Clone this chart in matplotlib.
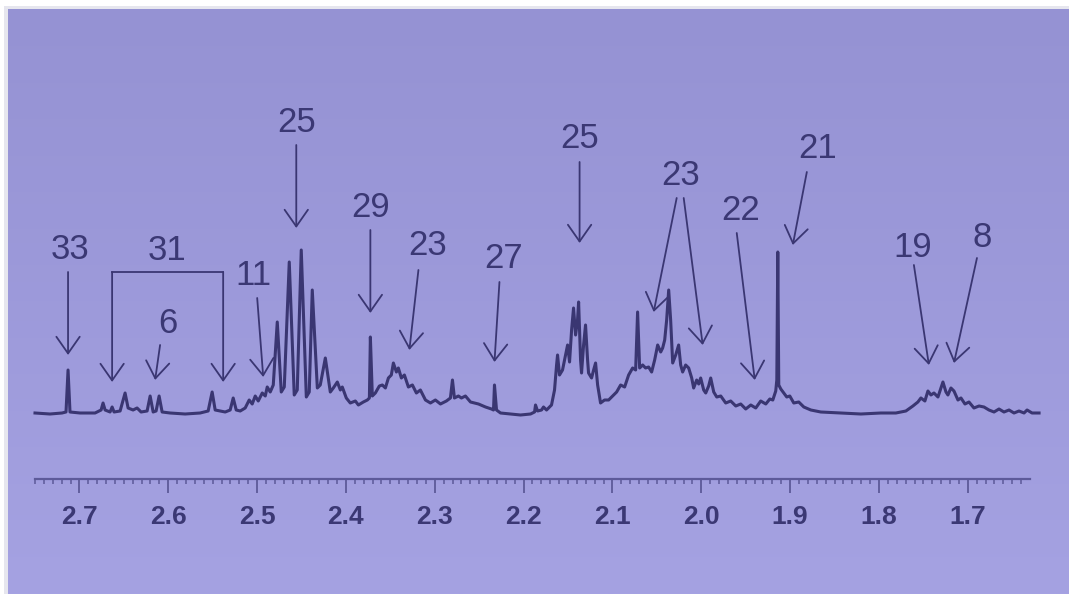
import numpy as np
import matplotlib
matplotlib.use("Agg")
import matplotlib.pyplot as plt
from matplotlib.patches import Rectangle
from matplotlib.colors import LinearSegmentedColormap

# ---------------- data (chemical shift in ppm, intensity in a.u.) ----------------
ppm = [2.7500, 2.7331, 2.7196, 2.7151, 2.7128, 2.7106, 2.6993, 2.6824, 2.6756, 2.6734,
       2.6711, 2.6655, 2.6632, 2.6610, 2.6542, 2.6486, 2.6452, 2.6396, 2.6351, 2.6306,
       2.6238, 2.6204, 2.6170, 2.6137, 2.6103, 2.6069, 2.5979, 2.5810, 2.5641, 2.5551,
       2.5506, 2.5472, 2.5359, 2.5303, 2.5269, 2.5235, 2.5190, 2.5134, 2.5089, 2.5055,
       2.5021, 2.4987, 2.4942, 2.4908, 2.4886, 2.4852, 2.4818, 2.4773, 2.4728, 2.4694,
       2.4638, 2.4582, 2.4548, 2.4503, 2.4446, 2.4413, 2.4379, 2.4322, 2.4289, 2.4232,
       2.4176, 2.4142, 2.4097, 2.4063, 2.4041, 2.3996, 2.3951, 2.3894, 2.3860, 2.3804,
       2.3759, 2.3736, 2.3725, 2.3703, 2.3669, 2.3624, 2.3590, 2.3556, 2.3522, 2.3489,
       2.3466, 2.3432, 2.3410, 2.3376, 2.3342, 2.3297, 2.3252, 2.3207, 2.3162, 2.3105,
       2.3049, 2.2993, 2.2936, 2.2869, 2.2824, 2.2801, 2.2779, 2.2734, 2.2700, 2.2655,
       2.2598, 2.2508, 2.2429, 2.2362, 2.2339, 2.2328, 2.2305, 2.2260, 2.2148, 2.2035,
       2.1922, 2.1877, 2.1866, 2.1843, 2.1798, 2.1776, 2.1742, 2.1686, 2.1652, 2.1629,
       2.1618, 2.1596, 2.1562, 2.1539, 2.1505, 2.1483, 2.1460, 2.1438, 2.1415, 2.1393,
       2.1381, 2.1359, 2.1348, 2.1325, 2.1303, 2.1280, 2.1269, 2.1235, 2.1212, 2.1190,
       2.1167, 2.1134, 2.1089, 2.1043, 2.0998, 2.0953, 2.0908, 2.0863, 2.0818, 2.0773,
       2.0739, 2.0717, 2.0694, 2.0660, 2.0627, 2.0593, 2.0559, 2.0525, 2.0491, 2.0457,
       2.0435, 2.0412, 2.0390, 2.0367, 2.0345, 2.0322, 2.0288, 2.0255, 2.0232, 2.0210,
       2.0176, 2.0142, 2.0108, 2.0086, 2.0052, 2.0029, 2.0007, 1.9973, 1.9950, 1.9917,
       1.9894, 1.9860, 1.9826, 1.9781, 1.9725, 1.9669, 1.9612, 1.9556, 1.9500, 1.9443,
       1.9387, 1.9331, 1.9274, 1.9229, 1.9195, 1.9162, 1.9150, 1.9139, 1.9128, 1.9105,
       1.9072, 1.9038, 1.9004, 1.8959, 1.8903, 1.8846, 1.8767, 1.8655, 1.8429, 1.8204,
       1.7979, 1.7810, 1.7697, 1.7618, 1.7562, 1.7528, 1.7483, 1.7449, 1.7415, 1.7381,
       1.7336, 1.7280, 1.7246, 1.7224, 1.7190, 1.7156, 1.7111, 1.7077, 1.7032, 1.6987,
       1.6931, 1.6874, 1.6818, 1.6762, 1.6705, 1.6649, 1.6593, 1.6536, 1.6480, 1.6424,
       1.6367, 1.6333, 1.6277, 1.6198]

intensity = [2, 1, 2, 3, 45, 3, 2, 2, 5, 12,
             5, 3, 8, 3, 4, 22, 7, 5, 7, 3,
             4, 19, 3, 4, 19, 3, 2, 1, 2, 4,
             23, 5, 3, 5, 17, 5, 4, 7, 15, 11,
             19, 14, 22, 19, 28, 23, 30, 93, 23, 28,
             153, 20, 25, 165, 18, 23, 125, 27, 30, 57,
             23, 27, 33, 25, 28, 17, 12, 14, 10, 13,
             15, 17, 78, 19, 22, 29, 30, 27, 37, 40,
             52, 43, 47, 37, 40, 28, 30, 22, 25, 15,
             12, 15, 11, 14, 17, 35, 17, 19, 17, 19,
             13, 11, 8, 6, 5, 30, 5, 2, 1, 0,
             1, 3, 10, 4, 5, 8, 5, 10, 25, 50,
             60, 40, 45, 55, 70, 53, 85, 107, 80, 95,
             113, 55, 42, 70, 90, 55, 42, 37, 45, 52,
             30, 12, 15, 15, 19, 23, 30, 28, 40, 47,
             45, 103, 47, 50, 47, 48, 43, 55, 70, 63,
             67, 75, 95, 125, 95, 52, 60, 70, 50, 43,
             50, 47, 37, 27, 35, 31, 37, 25, 22, 29,
             37, 23, 18, 19, 12, 14, 9, 11, 6, 10,
             7, 14, 11, 16, 15, 24, 35, 163, 30, 26,
             22, 18, 19, 12, 13, 8, 5, 3, 2, 1,
             2, 2, 4, 9, 13, 17, 14, 24, 20, 22,
             18, 33, 23, 20, 27, 24, 15, 17, 11, 13,
             7, 9, 8, 5, 3, 6, 3, 5, 2, 4,
             2, 5, 2, 2]

major_ticks = [2.7, 2.6, 2.5, 2.4, 2.3, 2.2, 2.1, 2.0, 1.9, 1.8, 1.7]
major_labels = ["2.7", "2.6", "2.5", "2.4", "2.3", "2.2", "2.1", "2.0", "1.9", "1.8", "1.7"]

# peak assignments: label, label position, arrow start, arrow tip (ppm, intensity)
ann_labels = ["33", "6", "11", "25", "29", "23", "27", "25", "22", "21", "19", "8"]
ann_text_xy = [(2.7106, 166), (2.6001, 92), (2.5044, 140), (2.4559, 293), (2.3725, 208),
               (2.3083, 170), (2.2227, 157), (2.1370, 277), (1.9556, 205), (1.8688, 267),
               (1.7618, 168), (1.6840, 178)]
ann_from = [(2.7128, 143), (2.6092, 70), (2.4999, 117), (2.4559, 270), (2.3725, 185),
            (2.3184, 145), (2.2272, 133), (2.1370, 253), (1.9601, 182), (1.8812, 243),
            (1.7607, 150), (1.6897, 157)]
ann_to = [(2.7128, 60), (2.6148, 35), (2.4931, 38), (2.4559, 187), (2.3725, 102),
          (2.3286, 65), (2.2328, 53), (2.1370, 172), (1.9398, 35), (1.8970, 170),
          (1.7438, 50), (1.7156, 52)]

# double-arrow label "23" (2.02-2.05 ppm)
dbl_label = "23"
dbl_text_xy = (2.0232, 240)
dbl_from = [(2.0277, 217), (2.0198, 217)]
dbl_to = [(2.0536, 103), (1.9984, 70)]

# bracket label "31"
br_label = "31"
br_text_xy = (2.6013, 165)
br_x = [2.6632, 2.5382]
br_top = 143
br_tip = 33

# ---------------- figure ----------------
W, H = 1069, 594
fig = plt.figure(figsize=(W / 100, H / 100), dpi=100)
fig.patch.set_facecolor("white")

# panel with vertical gradient
px0, py0 = 8 / W, 9 / H
shadow = fig.add_axes([px0 - 4 / W, 0, 1, 1 - py0 + 3 / H])
shadow.set_axis_off()
shadow.add_patch(Rectangle((0, 0), 1, 1, transform=shadow.transAxes, color="#e6e6ee"))
bg = fig.add_axes([px0, 0, 1 - px0, 1 - py0])
bg.set_axis_off()
grad = np.linspace(0, 1, 256).reshape(-1, 1)
cmap = LinearSegmentedColormap.from_list("bg", ["#9592d3", "#a5a2e2"])
bg.imshow(grad, aspect="auto", cmap=cmap, extent=(0, 1, 0, 1), origin="upper")

LINE = "#3a3672"
TXT = "#3b3874"
AXC = "#5d5a99"

ax = fig.add_axes([35 / W, 1 - 479 / H, (1030 - 35) / W, (479 - 9) / H])
ax.patch.set_alpha(0)
ax.plot(ppm, intensity, color=LINE, lw=2.2, solid_joinstyle="round", clip_on=False, zorder=3)
ax.set_xlim(2.75, 1.63)
ax.set_ylim(-64, 406)

for s in ["top", "right", "left"]:
    ax.spines[s].set_visible(False)
ax.spines["bottom"].set_color(AXC)
ax.spines["bottom"].set_linewidth(1.6)
ax.set_yticks([])
ax.set_xticks(major_ticks)
ax.set_xticklabels(major_labels)
ax.set_xticks(np.round(np.arange(1.64, 2.751, 0.01), 2), minor=True)
ax.tick_params(axis="x", which="major", direction="out", length=10, width=1.3,
               color=AXC, pad=9, labelsize=19, labelcolor=TXT)
ax.tick_params(axis="x", which="minor", direction="out", length=3.5, width=1.1, color=AXC)
for lab in ax.get_xticklabels():
    lab.set_fontfamily("Liberation Sans")
    lab.set_fontweight("bold")

fk = dict(fontsize=25, color=TXT, family="Liberation Sans", ha="center", va="center")
arrow_kw = dict(arrowstyle="->,head_length=0.6,head_width=0.42", color=LINE, lw=1.3,
                shrinkA=0, shrinkB=0, mutation_scale=20)

for lab, txy, a0, a1 in zip(ann_labels, ann_text_xy, ann_from, ann_to):
    ax.text(txy[0], txy[1], lab, **fk)
    ax.annotate("", xy=a1, xytext=a0, arrowprops=arrow_kw, annotation_clip=False)

ax.text(dbl_text_xy[0], dbl_text_xy[1], dbl_label, **fk)
for a0, a1 in zip(dbl_from, dbl_to):
    ax.annotate("", xy=a1, xytext=a0, arrowprops=arrow_kw, annotation_clip=False)

ax.text(br_text_xy[0], br_text_xy[1], br_label, **fk)
ax.plot(br_x, [br_top, br_top], color=LINE, lw=1.3, clip_on=False)
for bx in br_x:
    ax.annotate("", xy=(bx, br_tip), xytext=(bx, br_top), arrowprops=arrow_kw,
                annotation_clip=False)

fig.savefig("out.png", dpi=100)
